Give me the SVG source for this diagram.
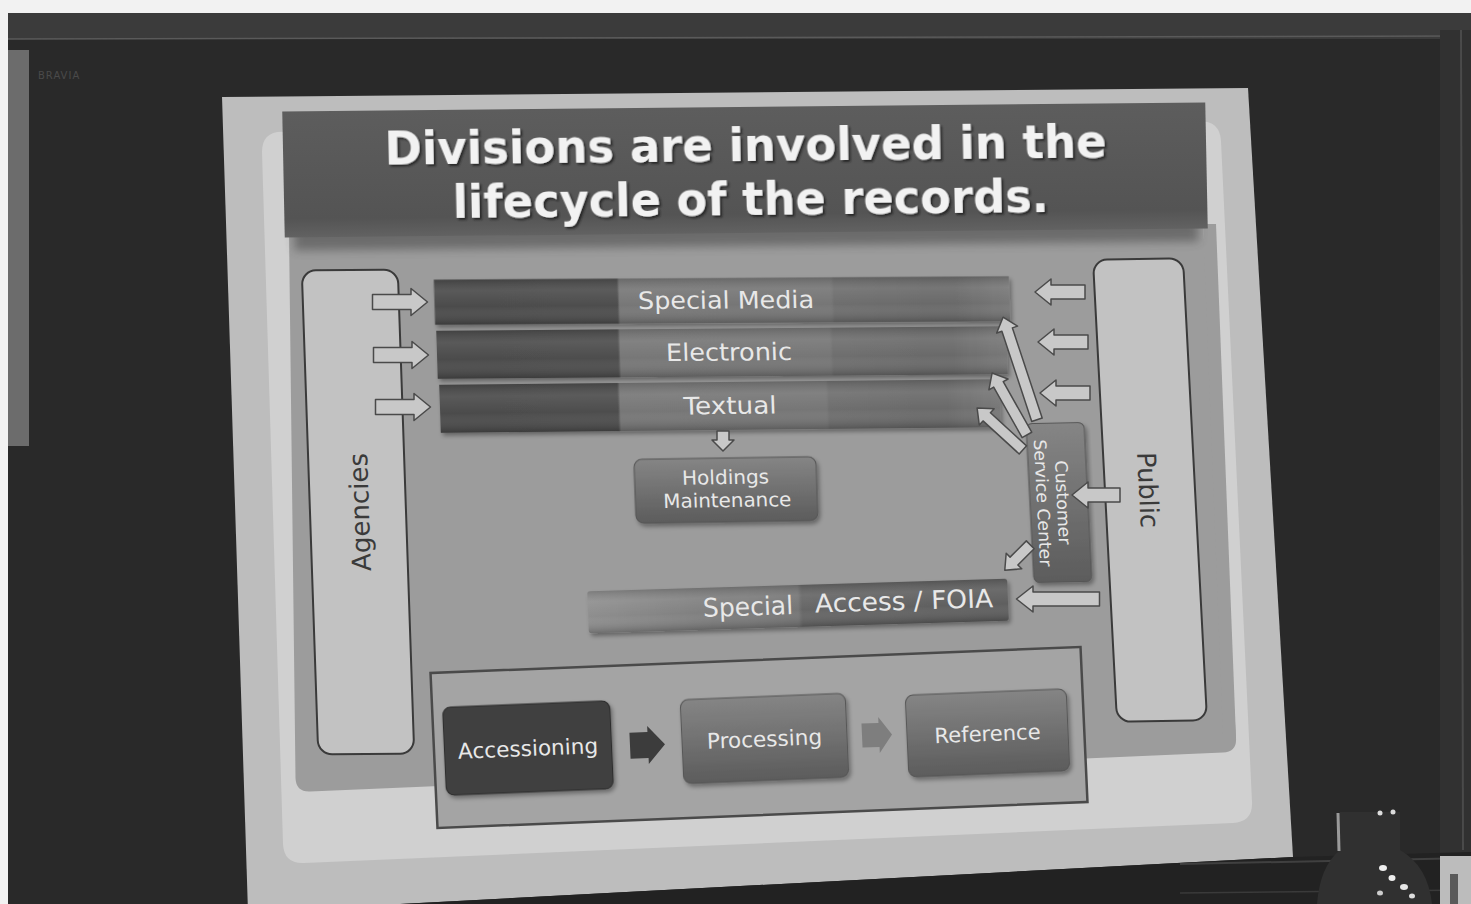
<svg xmlns="http://www.w3.org/2000/svg" width="1471" height="904" viewBox="0 0 1471 904">
<defs>
<style>
.lbl{font-family:"DejaVu Sans","Noto Sans",sans-serif;fill:#e8e8e8;text-anchor:middle}
.side{fill:#c2c2c2;stroke:#3a3a3a;stroke-width:2}
.sideTxt{font-family:"DejaVu Sans","Noto Sans",sans-serif;fill:#3a3a3a;text-anchor:middle;font-size:26px}
.arrow{fill:#c8c8c8;stroke:#4a4a4a;stroke-width:1.5;stroke-linejoin:round}
.title{font-family:"DejaVu Sans","Noto Sans",sans-serif;font-weight:bold;fill:#f2f2f2;text-anchor:middle;font-size:46px}
.box{fill:url(#boxGrad);stroke:#555;stroke-width:1}
</style>
<linearGradient id="barGrad" x1="0" y1="0" x2="1" y2="0">
<stop offset="0" stop-color="#4b4b4b"/>
<stop offset="0.318" stop-color="#4e4e4e"/>
<stop offset="0.322" stop-color="#777"/>
<stop offset="0.69" stop-color="#767676"/>
<stop offset="0.695" stop-color="#6e6e6e"/>
<stop offset="0.9" stop-color="#6a6a6a"/>
<stop offset="1" stop-color="#787878"/>
</linearGradient>
<linearGradient id="shade" x1="0" y1="0" x2="0" y2="1">
<stop offset="0" stop-color="#000" stop-opacity="0.12"/>
<stop offset="0.25" stop-color="#fff" stop-opacity="0.08"/>
<stop offset="0.6" stop-color="#fff" stop-opacity="0"/>
<stop offset="1" stop-color="#000" stop-opacity="0.22"/>
</linearGradient>
<linearGradient id="foiaGrad" x1="0" y1="0" x2="1" y2="0">
<stop offset="0" stop-color="#8e8e8e"/>
<stop offset="0.26" stop-color="#808080"/>
<stop offset="0.5" stop-color="#767676"/>
<stop offset="0.51" stop-color="#666"/>
<stop offset="1" stop-color="#5e5e5e"/>
</linearGradient>
<linearGradient id="boxGrad" x1="0" y1="0" x2="0" y2="1">
<stop offset="0" stop-color="#858585"/>
<stop offset="1" stop-color="#5c5c5c"/>
</linearGradient>
<linearGradient id="titleGrad" x1="0" y1="0" x2="0" y2="1">
<stop offset="0" stop-color="#5d5d5d"/>
<stop offset="0.85" stop-color="#545454"/>
<stop offset="1" stop-color="#626262"/>
</linearGradient>
<filter id="sh" x="-10%" y="-10%" width="120%" height="130%">
<feDropShadow dx="2" dy="3" stdDeviation="2" flood-color="#000" flood-opacity="0.35"/>
</filter>
<filter id="tsh" x="-5%" y="-20%" width="110%" height="140%">
<feDropShadow dx="2" dy="2" stdDeviation="1.2" flood-color="#1a1a1a" flood-opacity="0.8"/>
</filter>
<filter id="blur6"><feGaussianBlur stdDeviation="5"/></filter>
<path id="aR55" d="M-27.5,-7.5 H11 V-13.5 L27.5,0 L11,13.5 V7.5 H-27.5 Z"/>
<path id="aR50" d="M-25,-7 H9 V-13 L25,0 L9,13 V7 H-25 Z"/>
<path id="aR48" d="M-24,-7 H8 V-13 L24,0 L8,13 V7 H-24 Z"/>
<path id="aR83" d="M-41.5,-7 H25 V-13 L41.5,0 L25,13 V7 H-41.5 Z"/>
<path id="aD108" d="M-54,-5.5 H41 V-11 L54,0 L41,11 V5.5 H-54 Z"/>
<path id="aD71" d="M-35.5,-5.5 H22.5 V-11 L35.5,0 L22.5,11 V5.5 H-35.5 Z"/>
<path id="aD62" d="M-31,-5.5 H18 V-11 L31,0 L18,11 V5.5 H-31 Z"/>
<path id="aD36" d="M-18,-5.5 H5 V-11 L18,0 L5,11 V5.5 H-18 Z"/>
</defs>

<g id="photo">
<rect x="0" y="0" width="1471" height="904" fill="#292929"/>
<rect x="0" y="13" width="1471" height="26" fill="#3b3b3b"/>
<line x1="8" y1="39" x2="1471" y2="36" stroke="#5a5a5a" stroke-width="1.5"/>
<rect x="8" y="50" width="21" height="396" fill="#6c6c6c"/>
<rect x="1440" y="30" width="31" height="830" fill="#313131"/>
<line x1="1461" y1="30" x2="1463" y2="850" stroke="#4a4a4a" stroke-width="2"/>
<rect x="0" y="0" width="1471" height="13" fill="#f2f2f2"/>
<rect x="0" y="0" width="8" height="904" fill="#f2f2f2"/>
<text x="38" y="79" font-family="DejaVu Sans, sans-serif" font-size="10" fill="#4a4a4a" letter-spacing="1">BRAVIA</text>
<polygon points="222,97 1248,88 1293,857 248,912" fill="#bdbdbd"/>
<polygon points="248,912 1293,857 1471,852 1471,904 248,904" fill="#222"/>
<line x1="1180" y1="864" x2="1471" y2="858" stroke="#404040" stroke-width="2"/>
<line x1="1180" y1="893" x2="1471" y2="890" stroke="#3a3a3a" stroke-width="1.5"/>
<path d="M1340,812 L1340,850 Q1320,866 1317,904 L1432,904 Q1428,866 1400,850 L1400,812 Z" fill="#303030"/>
<line x1="1338" y1="813" x2="1339" y2="851" stroke="#9a9a9a" stroke-width="3"/>
<circle cx="1380" cy="813" r="2.5" fill="#ddd"/>
<circle cx="1393" cy="812" r="2.5" fill="#ddd"/>
<ellipse cx="1383" cy="868" rx="4" ry="3" fill="#eee"/>
<ellipse cx="1392" cy="878" rx="3.5" ry="3" fill="#eee"/>
<ellipse cx="1404" cy="887" rx="4" ry="3" fill="#e6e6e6"/>
<ellipse cx="1412" cy="896" rx="3" ry="2.5" fill="#ddd"/>
<ellipse cx="1380" cy="893" rx="3" ry="2.5" fill="#ccc"/>
<rect x="1440" y="856" width="31" height="48" fill="#bcbcbc"/>
<rect x="1450" y="874" width="8" height="30" fill="#5a5a5a"/>
</g>

<g id="slide">
<path d="M262,152 Q262,132 282,131.8 L1200,121.2 Q1220,121 1221,141 L1252,802 Q1253,822 1233,823 L304,863 Q284,864 283,844 Z" fill="#d0d0d0"/>
<path d="M289,232 L1203,224 L1236,738 Q1237,752 1223,752.6 L310,791.5 Q296,792 295.5,778 Z" fill="#9c9c9c"/>
<path d="M1203,224 L1216,224 L1236,738 L1223,738 Z" fill="#9c9c9c"/>
</g>

<g id="title" transform="matrix(1 -0.01 0.02 1 745 170)">
<rect x="-452" y="-40" width="904" height="116" fill="#333" opacity="0.45" filter="url(#blur6)"/>
<rect x="-461.5" y="-63" width="923" height="126" fill="url(#titleGrad)"/>
<g filter="url(#tsh)">
<text class="title" x="1" y="-9" textLength="722" lengthAdjust="spacingAndGlyphs">Divisions are involved in the</text>
<text class="title" x="5" y="45" textLength="596" lengthAdjust="spacingAndGlyphs">lifecycle of the records.</text>
</g>
</g>

<g id="agencies" transform="matrix(1 -0.01 0.034 1 358 512)">
<rect class="side" x="-48" y="-242" width="96" height="484" rx="14"/>
<text class="sideTxt" transform="rotate(-90)" x="0" y="11" textLength="118" lengthAdjust="spacingAndGlyphs">Agencies</text>
</g>

<g id="public" transform="matrix(1 -0.02 0.052 1 1150 490)">
<rect class="side" x="-45" y="-231" width="90" height="462" rx="14"/>
<text class="sideTxt" transform="rotate(90)" x="0" y="11" textLength="76" lengthAdjust="spacingAndGlyphs">Public</text>
</g>

<g id="special-media" transform="matrix(1 -0.006 0.03 1 722 300.5)">
<rect x="-287.5" y="-22.5" width="575" height="45" fill="url(#barGrad)" filter="url(#sh)"/>
<rect x="-287.5" y="-22.5" width="575" height="45" fill="url(#shade)"/>
<text class="lbl" x="4" y="8" font-size="24" textLength="176" lengthAdjust="spacingAndGlyphs">Special Media</text>
</g>

<g id="electronic" transform="matrix(1 -0.008 0.032 1 722 352.5)">
<rect x="-285" y="-24" width="570" height="48" fill="url(#barGrad)" filter="url(#sh)"/>
<rect x="-285" y="-24" width="570" height="48" fill="url(#shade)"/>
<text class="lbl" x="7" y="8" font-size="24" textLength="126" lengthAdjust="spacingAndGlyphs">Electronic</text>
</g>

<g id="textual" transform="matrix(1 -0.01 0.034 1 720 406)">
<rect x="-280" y="-24" width="560" height="48" fill="url(#barGrad)" filter="url(#sh)"/>
<rect x="-280" y="-24" width="560" height="48" fill="url(#shade)"/>
<text class="lbl" x="10" y="8" font-size="24" textLength="93" lengthAdjust="spacingAndGlyphs">Textual</text>
</g>

<g id="holdings" transform="matrix(1 -0.015 0.035 1 726 490)">
<rect class="box" x="-91" y="-32" width="182" height="64" rx="8" filter="url(#sh)"/>
<text class="lbl" x="0" y="-6" font-size="19.5" textLength="87" lengthAdjust="spacingAndGlyphs">Holdings</text>
<text class="lbl" x="1" y="17" font-size="19.5" textLength="128" lengthAdjust="spacingAndGlyphs">Maintenance</text>
</g>

<g id="customer-service-center" transform="matrix(1 -0.02 0.05 1 1059 502.5)">
<rect class="box" x="-29" y="-79.5" width="58" height="159" rx="6" filter="url(#sh)"/>
<text class="lbl" transform="rotate(90)" x="0" y="2" font-size="17" textLength="84" lengthAdjust="spacingAndGlyphs">Customer</text>
<text class="lbl" transform="rotate(90)" x="0" y="22" font-size="17" textLength="127" lengthAdjust="spacingAndGlyphs">Service Center</text>
</g>

<g id="special-access-foia" transform="matrix(1 -0.03 0.04 1 798 606)">
<rect x="-210" y="-21" width="420" height="42" rx="3" fill="url(#foiaGrad)" filter="url(#sh)"/>
<rect x="-210" y="-21" width="420" height="42" rx="3" fill="url(#shade)"/>
<text class="lbl" x="-50" y="8" font-size="25.5" textLength="90" lengthAdjust="spacingAndGlyphs">Special</text>
<text class="lbl" x="106" y="7" font-size="25.5" textLength="178" lengthAdjust="spacingAndGlyphs">Access / FOIA</text>
</g>

<g id="lifecycle" transform="matrix(1 -0.04 0.045 1 759 737.5)">
<rect x="-325" y="-77.5" width="650" height="155" fill="#a4a4a4" stroke="#4a4a4a" stroke-width="2.5"/>
</g>

<g id="accessioning" transform="matrix(1 -0.04 0.045 1 528 748)">
<rect x="-83.5" y="-44" width="167" height="88" rx="8" fill="#3f3f3f" stroke="#2c2c2c" stroke-width="1" filter="url(#sh)"/>
<text class="lbl" x="0" y="8" font-size="21.5" textLength="140" lengthAdjust="spacingAndGlyphs">Accessioning</text>
</g>

<g id="processing" transform="matrix(1 -0.04 0.045 1 764.5 738.5)">
<rect class="box" x="-82.5" y="-42" width="165" height="84" rx="8" filter="url(#sh)"/>
<text class="lbl" x="0" y="8" font-size="21.5" textLength="115" lengthAdjust="spacingAndGlyphs">Processing</text>
</g>

<g id="reference" transform="matrix(1 -0.04 0.045 1 987.5 733)">
<rect class="box" x="-80.5" y="-41" width="161" height="82" rx="8" filter="url(#sh)"/>
<text class="lbl" x="0" y="8" font-size="21" textLength="106" lengthAdjust="spacingAndGlyphs">Reference</text>
</g>

<g id="connectors">
<use href="#aR55" class="arrow" transform="translate(400,302)"/>
<use href="#aR55" class="arrow" transform="translate(401,355)"/>
<use href="#aR55" class="arrow" transform="translate(403,407)"/>
<use href="#aR50" class="arrow" transform="translate(1060,292) rotate(180)"/>
<use href="#aR50" class="arrow" transform="translate(1063,342) rotate(180)"/>
<use href="#aR50" class="arrow" transform="translate(1065,393) rotate(180)"/>
<use href="#aD108" class="arrow" transform="translate(1020,368.5) rotate(-108.3)"/>
<use href="#aD71" class="arrow" transform="translate(1009.5,404) rotate(-119.4)"/>
<use href="#aD62" class="arrow" transform="translate(1000,429) rotate(-137.6)"/>
<path class="arrow" d="M717,431 H729 V440 H734 L723,451 L712,440 H717 Z"/>
<use href="#aR48" class="arrow" transform="translate(1096,495) rotate(180)"/>
<use href="#aD36" class="arrow" transform="translate(1017.5,557.5) rotate(135)"/>
<use href="#aR83" class="arrow" transform="translate(1058,599) rotate(180)"/>
<path d="M-17,-13 H1 V-19 L18,0 L1,19 V13 H-17 Z" fill="#3c3c3c" transform="matrix(1 -0.04 0.045 1 647 745)"/>
<path d="M-15,-12 H2 V-18 L15,0 L2,18 V12 H-15 Z" fill="#7e7e7e" transform="matrix(1 -0.04 0.045 1 877 735)"/>
</g>
</svg>
